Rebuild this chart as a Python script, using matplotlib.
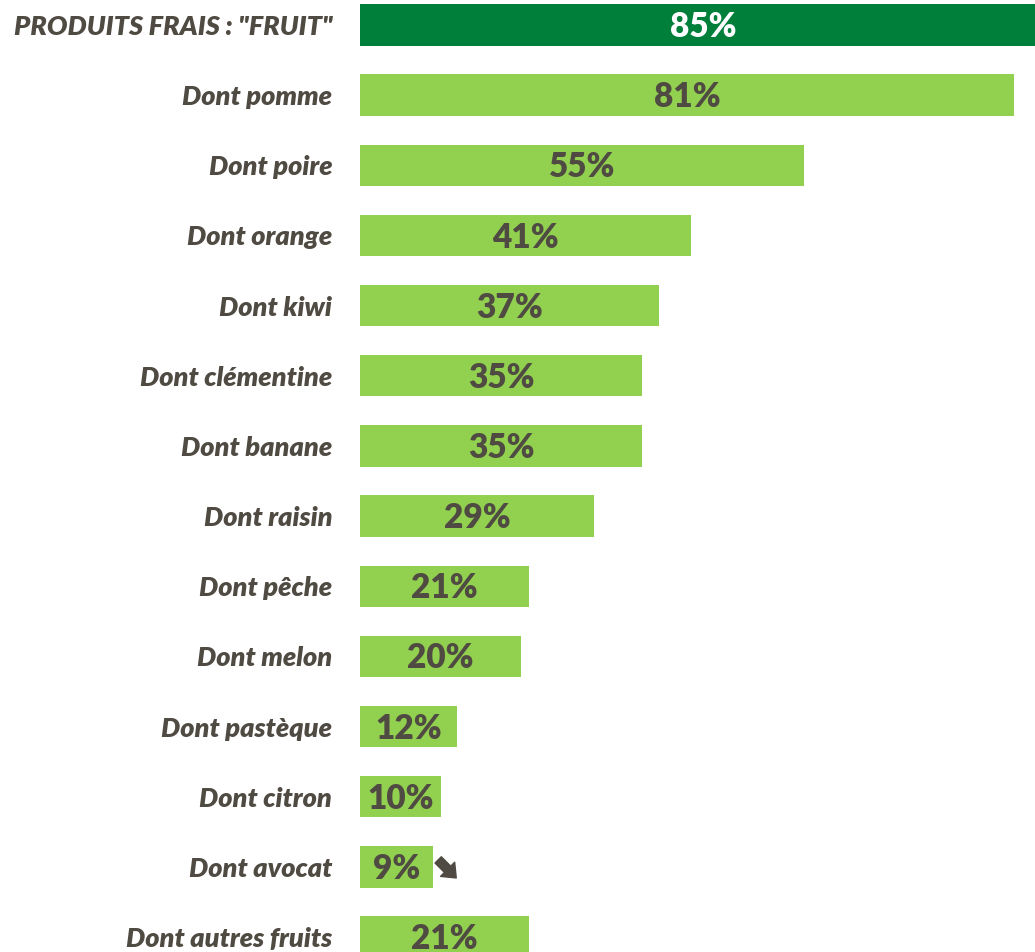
import matplotlib.pyplot as plt
from matplotlib.transforms import offset_copy

labels = ['PRODUITS FRAIS : "FRUIT"', 'Dont pomme', 'Dont poire', 'Dont orange', 'Dont kiwi',
          'Dont clémentine', 'Dont banane', 'Dont raisin', 'Dont pêche', 'Dont melon',
          'Dont pastèque', 'Dont citron', 'Dont avocat', 'Dont autres fruits']
values = [85, 81, 55, 41, 37, 35, 35, 29, 21, 20, 12, 10, 9, 21]

dark_green = '#007F3B'
light_green = '#92D050'
text_col = '#4F4A42'

plt.rcParams['font.family'] = ['Lato', 'DejaVu Sans']

fig = plt.figure(figsize=(10.35, 9.52), dpi=100)
ax = fig.add_axes([360 / 1035, 0, 675 / 1035, 1])

pos = list(range(len(values)))
colors = [dark_green] + [light_green] * (len(values) - 1)
ax.barh(pos, values, height=0.59, color=colors)

for i, v in enumerate(values):
    c = 'white' if i == 0 else text_col
    ax.text(v / 2, i + 0.03, f'{v}%', ha='center', va='center', color=c,
            fontsize=24, fontweight='heavy')

# down trend arrow next to avocat
start = offset_copy(ax.transData, fig=fig, x=4, y=5, units='points')
end = offset_copy(ax.transData, fig=fig, x=17, y=-8, units='points')
ax.annotate('', xy=(values[12], 12), xycoords=end,
            xytext=(values[12], 12), textcoords=start,
            arrowprops=dict(arrowstyle='simple,head_length=0.55,head_width=0.9,tail_width=0.4',
                            color=text_col, mutation_scale=16, shrinkA=0, shrinkB=0))

ax.set_xlim(0, 675 / 8.07)
ax.set_ylim(13 + 15 / 70.15, -25 / 70.15)
ax.set_yticks(pos)
ax.set_yticklabels(labels, fontsize=19.5, fontweight='heavy', fontstyle='italic', color=text_col)
ax.tick_params(axis='y', length=0, pad=20)
ax.set_xticks([])
for s in ax.spines.values():
    s.set_visible(False)

fig.savefig('out.png', dpi=100)
